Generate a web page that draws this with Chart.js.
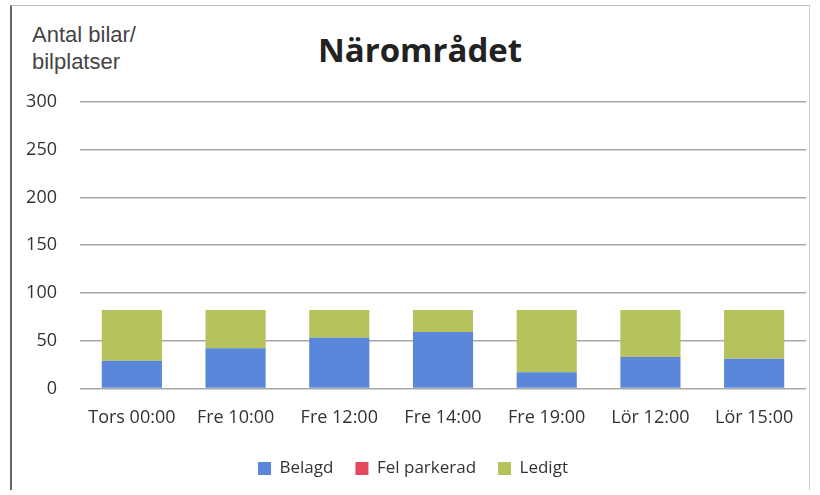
<!DOCTYPE html>
<html>
<head>
<meta charset="utf-8">
<script src="https://cdn.jsdelivr.net/npm/chart.js@4/dist/chart.umd.min.js"></script>
<style>
  html, body { margin: 0; padding: 0; background: #fff; }
  #wrap { position: relative; width: 820px; height: 495px; overflow: hidden; }
  #frame { position: absolute; left: 10px; top: 5px; width: 797px; height: 484px;
           border-left: 2px solid #666; border-top: 1px solid #bbb; border-right: 1px solid #ccc; }
  #ytitle { position: absolute; left: 32px; top: 21px; font: 22px "Liberation Sans", Arial, sans-serif;
            color: #444; line-height: 27px; }
  #title { position: absolute; left: 0; width: 840px; top: 27px; text-align: center; line-height: 40px;
           font: bold 33px "Open Sans", sans-serif; color: #222; }
  canvas { position: absolute; left: 0; top: 0; }
</style>
</head>
<body>
<div id="wrap">
  <div id="frame"></div>
  <div id="ytitle">Antal bilar/<br>bilplatser</div>
  <div id="title">Närområdet</div>
  <canvas id="chart" width="820" height="495"></canvas>
</div>
<script>
const categories = ['Tors 00:00', 'Fre 10:00', 'Fre 12:00', 'Fre 14:00', 'Fre 19:00', 'Lör 12:00', 'Lör 15:00'];
const belagd = [29, 42, 53, 59, 17, 33, 31];
const felParkerad = [0, 0, 0, 0, 0, 0, 0];
const ledigt = [53, 40, 29, 23, 65, 49, 51];
const yTicks = [0, 50, 100, 150, 200, 250, 300];

const ctx = document.getElementById('chart').getContext('2d');
new Chart(ctx, {
    type: 'bar',
    data: {
        labels: categories,
        datasets: [
            { label: 'Belagd', data: belagd, backgroundColor: '#5b87da' },
            { label: 'Fel parkerad', data: felParkerad, backgroundColor: '#e8485e' },
            { label: 'Ledigt', data: ledigt, backgroundColor: '#b6c25c' }
        ]
    },
    options: {
        responsive: false,
        animation: false,
        layout: { padding: { left: 20, right: 14, top: 102, bottom: 8 } },
        datasets: { bar: { barPercentage: 0.58, categoryPercentage: 1 } },
        scales: {
            x: {
                stacked: true,
                grid: { display: false },
                border: { display: false },
                ticks: { color: '#333', font: { family: 'Open Sans', size: 18 }, padding: 11, maxRotation: 0 },
                afterFit: axis => {
                    axis.paddingLeft = 0;
                    axis.paddingRight = 0;
                    axis.height -= 2;
                }
            },
            y: {
                stacked: true,
                min: 0,
                max: 300,
                afterBuildTicks: axis => { axis.ticks = yTicks.map(v => ({ value: v })); },
                afterFit: axis => { axis.width = 60; },
                grid: { color: '#a8a8a8', lineWidth: 1.5, drawTicks: false },
                border: { display: false },
                ticks: { color: '#333', font: { family: 'Open Sans', size: 18 }, padding: 23 }
            }
        },
        plugins: {
            legend: {
                position: 'bottom',
                labels: { boxWidth: 13, boxHeight: 13, color: '#333', font: { family: 'Open Sans', size: 17 }, padding: 22 }
            },
            tooltip: { enabled: false }
        }
    }
});
</script>
</body>
</html>
